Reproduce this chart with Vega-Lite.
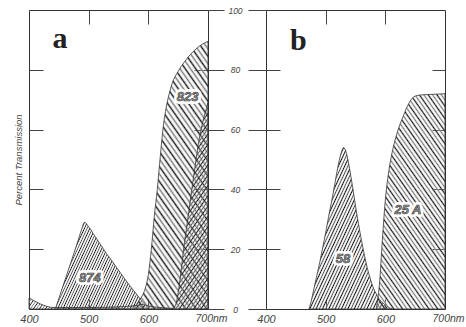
{
"$schema":"https://vega.github.io/schema/vega-lite/v6.json",
"padding":{"left":13,"top":5,"right":5,"bottom":5},
"background":"white",
"datasets":{
"curves":[
{"p":"a","f":"874","nm":444,"t":0},{"p":"a","f":"874","nm":450,"t":3.5},{"p":"a","f":"874","nm":460,"t":9.5},{"p":"a","f":"874","nm":470,"t":15.5},{"p":"a","f":"874","nm":480,"t":21.5},{"p":"a","f":"874","nm":488,"t":26.5},{"p":"a","f":"874","nm":493,"t":29},{"p":"a","f":"874","nm":500,"t":27.5},{"p":"a","f":"874","nm":510,"t":24.5},{"p":"a","f":"874","nm":520,"t":21.5},{"p":"a","f":"874","nm":530,"t":18.5},{"p":"a","f":"874","nm":540,"t":15.8},{"p":"a","f":"874","nm":550,"t":13},{"p":"a","f":"874","nm":560,"t":10.2},{"p":"a","f":"874","nm":570,"t":7.5},{"p":"a","f":"874","nm":580,"t":5},{"p":"a","f":"874","nm":590,"t":2.5},{"p":"a","f":"874","nm":600,"t":0.5},
{"p":"a","f":"823","nm":575,"t":0},{"p":"a","f":"823","nm":580,"t":1.5},{"p":"a","f":"823","nm":585,"t":3},{"p":"a","f":"823","nm":590,"t":4.5},{"p":"a","f":"823","nm":595,"t":7},{"p":"a","f":"823","nm":600,"t":11.5},{"p":"a","f":"823","nm":605,"t":20},{"p":"a","f":"823","nm":610,"t":31},{"p":"a","f":"823","nm":615,"t":40},{"p":"a","f":"823","nm":620,"t":51},{"p":"a","f":"823","nm":625,"t":61},{"p":"a","f":"823","nm":630,"t":67.5},{"p":"a","f":"823","nm":635,"t":72},{"p":"a","f":"823","nm":640,"t":75.5},{"p":"a","f":"823","nm":650,"t":79.5},{"p":"a","f":"823","nm":660,"t":82.5},{"p":"a","f":"823","nm":670,"t":85},{"p":"a","f":"823","nm":680,"t":87},{"p":"a","f":"823","nm":690,"t":88.5},{"p":"a","f":"823","nm":700,"t":89.5},
{"p":"a","f":"X","s":"tail","nm":400,"t":3.7},{"p":"a","f":"X","s":"tail","nm":410,"t":2.6},{"p":"a","f":"X","s":"tail","nm":420,"t":1.6},{"p":"a","f":"X","s":"tail","nm":430,"t":0.9},{"p":"a","f":"X","s":"tail","nm":440,"t":0.5},{"p":"a","f":"X","s":"tail","nm":500,"t":0.5},{"p":"a","f":"X","s":"tail","nm":560,"t":0.8},{"p":"a","f":"X","s":"tail","nm":580,"t":1.2},{"p":"a","f":"X","s":"tail","nm":590,"t":1.5},{"p":"a","f":"X","s":"tail","nm":600,"t":1},{"p":"a","f":"X","s":"tail","nm":620,"t":0.5},{"p":"a","f":"X","s":"tail","nm":640,"t":0.2},
{"p":"a","f":"X","s":"rise","nm":640,"t":0.2},{"p":"a","f":"X","s":"rise","nm":645,"t":1},{"p":"a","f":"X","s":"rise","nm":650,"t":5.5},{"p":"a","f":"X","s":"rise","nm":655,"t":13},{"p":"a","f":"X","s":"rise","nm":660,"t":21.5},{"p":"a","f":"X","s":"rise","nm":665,"t":28.5},{"p":"a","f":"X","s":"rise","nm":670,"t":36},{"p":"a","f":"X","s":"rise","nm":675,"t":43},{"p":"a","f":"X","s":"rise","nm":680,"t":50},{"p":"a","f":"X","s":"rise","nm":685,"t":56.5},{"p":"a","f":"X","s":"rise","nm":690,"t":61.5},{"p":"a","f":"X","s":"rise","nm":695,"t":65.5},{"p":"a","f":"X","s":"rise","nm":700,"t":69},
{"p":"b","f":"58","nm":472,"t":0},{"p":"b","f":"58","nm":475,"t":2},{"p":"b","f":"58","nm":480,"t":6.5},{"p":"b","f":"58","nm":485,"t":11},{"p":"b","f":"58","nm":490,"t":15.5},{"p":"b","f":"58","nm":495,"t":20.5},{"p":"b","f":"58","nm":500,"t":25.5},{"p":"b","f":"58","nm":505,"t":31},{"p":"b","f":"58","nm":510,"t":36},{"p":"b","f":"58","nm":515,"t":41.5},{"p":"b","f":"58","nm":520,"t":47},{"p":"b","f":"58","nm":525,"t":51.5},{"p":"b","f":"58","nm":530,"t":54},{"p":"b","f":"58","nm":535,"t":52},{"p":"b","f":"58","nm":540,"t":47},{"p":"b","f":"58","nm":545,"t":41},{"p":"b","f":"58","nm":550,"t":34.5},{"p":"b","f":"58","nm":555,"t":28.5},{"p":"b","f":"58","nm":560,"t":23},{"p":"b","f":"58","nm":565,"t":18},{"p":"b","f":"58","nm":570,"t":13.5},{"p":"b","f":"58","nm":575,"t":10},{"p":"b","f":"58","nm":580,"t":7},{"p":"b","f":"58","nm":585,"t":5},{"p":"b","f":"58","nm":590,"t":3.3},{"p":"b","f":"58","nm":595,"t":2.2},{"p":"b","f":"58","nm":600,"t":1.3},{"p":"b","f":"58","nm":605,"t":0.6},{"p":"b","f":"58","nm":612,"t":0},
{"p":"b","f":"25A","nm":585,"t":0.5},{"p":"b","f":"25A","nm":590,"t":8},{"p":"b","f":"25A","nm":595,"t":23},{"p":"b","f":"25A","nm":600,"t":36.5},{"p":"b","f":"25A","nm":605,"t":45},{"p":"b","f":"25A","nm":610,"t":51},{"p":"b","f":"25A","nm":615,"t":55.5},{"p":"b","f":"25A","nm":620,"t":59},{"p":"b","f":"25A","nm":625,"t":62},{"p":"b","f":"25A","nm":630,"t":64.5},{"p":"b","f":"25A","nm":635,"t":67},{"p":"b","f":"25A","nm":640,"t":69},{"p":"b","f":"25A","nm":645,"t":70.5},{"p":"b","f":"25A","nm":650,"t":71.2},{"p":"b","f":"25A","nm":660,"t":71.6},{"p":"b","f":"25A","nm":680,"t":71.8},{"p":"b","f":"25A","nm":700,"t":72}
],
"labels":[
{"p":"a","k":"panel","txt":"a","nm":452,"t":87.3},
{"p":"b","k":"panel","txt":"b","nm":454,"t":86.6},
{"p":"a","k":"filter","txt":"823","nm":666,"t":71},
{"p":"a","k":"filter","txt":"874","nm":502,"t":10.4},
{"p":"b","k":"filter","txt":"58","nm":529,"t":16.7},
{"p":"b","k":"filter","txt":"25 A","nm":638,"t":33.1}
]
},
"hconcat":[
{
"width":179,"height":299,
"resolve":{"axis":{"x":"independent","y":"independent"}},
"layer":[
{"data":{"name":"curves"},"transform":[{"filter":"datum.p == 'a' && datum.f == '874'"}],
"mark":{"type":"area","interpolate":"monotone","stroke":"#333","strokeWidth":0.8,"fill":{"gradient":"linear","x1":0,"y1":0,"x2":1.207,"y2":0.525,"stops":[{"offset":0,"color":"#000"},{"offset":0.01,"color":"#fff0"},{"offset":0.02,"color":"#444"},{"offset":0.03,"color":"#fff0"},{"offset":0.04,"color":"#000"},{"offset":0.05,"color":"#fff0"},{"offset":0.06,"color":"#444"},{"offset":0.07,"color":"#fff0"},{"offset":0.08,"color":"#000"},{"offset":0.09,"color":"#fff0"},{"offset":0.1,"color":"#444"},{"offset":0.11,"color":"#fff0"},{"offset":0.12,"color":"#000"},{"offset":0.13,"color":"#fff0"},{"offset":0.14,"color":"#444"},{"offset":0.15,"color":"#fff0"},{"offset":0.16,"color":"#000"},{"offset":0.17,"color":"#fff0"},{"offset":0.18,"color":"#444"},{"offset":0.19,"color":"#fff0"},{"offset":0.2,"color":"#000"},{"offset":0.21,"color":"#fff0"},{"offset":0.22,"color":"#444"},{"offset":0.23,"color":"#fff0"},{"offset":0.24,"color":"#000"},{"offset":0.25,"color":"#fff0"},{"offset":0.26,"color":"#444"},{"offset":0.27,"color":"#fff0"},{"offset":0.28,"color":"#000"},{"offset":0.29,"color":"#fff0"},{"offset":0.3,"color":"#444"},{"offset":0.31,"color":"#fff0"},{"offset":0.32,"color":"#000"},{"offset":0.33,"color":"#fff0"},{"offset":0.34,"color":"#444"},{"offset":0.35,"color":"#fff0"},{"offset":0.36,"color":"#000"},{"offset":0.37,"color":"#fff0"},{"offset":0.38,"color":"#444"},{"offset":0.39,"color":"#fff0"},{"offset":0.4,"color":"#000"},{"offset":0.41,"color":"#fff0"},{"offset":0.42,"color":"#444"},{"offset":0.43,"color":"#fff0"},{"offset":0.44,"color":"#000"},{"offset":0.45,"color":"#fff0"},{"offset":0.46,"color":"#444"},{"offset":0.47,"color":"#fff0"},{"offset":0.48,"color":"#000"},{"offset":0.49,"color":"#fff0"},{"offset":0.5,"color":"#444"},{"offset":0.51,"color":"#fff0"},{"offset":0.52,"color":"#000"},{"offset":0.53,"color":"#fff0"},{"offset":0.54,"color":"#444"},{"offset":0.55,"color":"#fff0"},{"offset":0.56,"color":"#000"},{"offset":0.57,"color":"#fff0"},{"offset":0.58,"color":"#444"},{"offset":0.59,"color":"#fff0"},{"offset":0.6,"color":"#000"},{"offset":0.61,"color":"#fff0"},{"offset":0.62,"color":"#444"},{"offset":0.63,"color":"#fff0"},{"offset":0.64,"color":"#000"},{"offset":0.65,"color":"#fff0"},{"offset":0.66,"color":"#444"},{"offset":0.67,"color":"#fff0"},{"offset":0.68,"color":"#000"},{"offset":0.69,"color":"#fff0"},{"offset":0.7,"color":"#444"},{"offset":0.71,"color":"#fff0"},{"offset":0.72,"color":"#000"},{"offset":0.73,"color":"#fff0"},{"offset":0.74,"color":"#444"},{"offset":0.75,"color":"#fff0"},{"offset":0.76,"color":"#000"},{"offset":0.77,"color":"#fff0"},{"offset":0.78,"color":"#444"},{"offset":0.79,"color":"#fff0"},{"offset":0.8,"color":"#000"},{"offset":0.81,"color":"#fff0"},{"offset":0.82,"color":"#444"},{"offset":0.83,"color":"#fff0"},{"offset":0.84,"color":"#000"},{"offset":0.85,"color":"#fff0"},{"offset":0.86,"color":"#444"},{"offset":0.87,"color":"#fff0"},{"offset":0.88,"color":"#000"},{"offset":0.89,"color":"#fff0"},{"offset":0.9,"color":"#444"},{"offset":0.91,"color":"#fff0"},{"offset":0.92,"color":"#000"},{"offset":0.93,"color":"#fff0"},{"offset":0.94,"color":"#444"},{"offset":0.95,"color":"#fff0"},{"offset":0.96,"color":"#000"},{"offset":0.97,"color":"#fff0"},{"offset":0.98,"color":"#444"},{"offset":0.99,"color":"#fff0"},{"offset":1,"color":"#fff0"}]}},
"encoding":{
"x":{"field":"nm","type":"quantitative","scale":{"domain":[400,700],"nice":false,"zero":false},"axis":{"orient":"bottom","values":[400,500,600,700],"ticks":false,"tickSize":0,"domain":false,"grid":false,"labelFlush":false,"labelBound":false,"labelOverlap":false,"labelPadding":4,"labelFontSize":{"condition":{"test":"datum.value == 700","value":10.5},"value":11},"title":null,"labelExpr":"datum.value == 700 ? '700nm' : datum.label","labelAlign":{"condition":{"test":"datum.value == 700","value":"left"},"value":"center"},"labelOffset":{"condition":{"test":"datum.value == 700","value":-13},"value":0}}},
"y":{"field":"t","type":"quantitative","scale":{"domain":[0,100],"nice":false},"axis":{"orient":"left","values":[20,40,60,80],"tickSize":-14,"labels":false,"domain":false,"grid":false,"title":"Percent Transmission","titleFont":"Liberation Sans","titleFontStyle":"italic","titleFontWeight":"normal","titleFontSize":9.5,"titleColor":"#444","titlePadding":5}}
}},
{"data":{"name":"curves"},"transform":[{"filter":"datum.p == 'a' && datum.f == '823'"}],
"mark":{"type":"area","interpolate":"monotone","stroke":"#333","strokeWidth":0.8,"fill":{"gradient":"linear","x1":1,"y1":0,"x2":0.52,"y2":1.207,"stops":[{"offset":0,"color":"#111"},{"offset":0.01,"color":"#fff0"},{"offset":0.02,"color":"#777"},{"offset":0.03,"color":"#fff0"},{"offset":0.04,"color":"#111"},{"offset":0.05,"color":"#fff0"},{"offset":0.06,"color":"#777"},{"offset":0.07,"color":"#fff0"},{"offset":0.08,"color":"#111"},{"offset":0.09,"color":"#fff0"},{"offset":0.1,"color":"#777"},{"offset":0.11,"color":"#fff0"},{"offset":0.12,"color":"#111"},{"offset":0.13,"color":"#fff0"},{"offset":0.14,"color":"#777"},{"offset":0.15,"color":"#fff0"},{"offset":0.16,"color":"#111"},{"offset":0.17,"color":"#fff0"},{"offset":0.18,"color":"#777"},{"offset":0.19,"color":"#fff0"},{"offset":0.2,"color":"#111"},{"offset":0.21,"color":"#fff0"},{"offset":0.22,"color":"#777"},{"offset":0.23,"color":"#fff0"},{"offset":0.24,"color":"#111"},{"offset":0.25,"color":"#fff0"},{"offset":0.26,"color":"#777"},{"offset":0.27,"color":"#fff0"},{"offset":0.28,"color":"#111"},{"offset":0.29,"color":"#fff0"},{"offset":0.3,"color":"#777"},{"offset":0.31,"color":"#fff0"},{"offset":0.32,"color":"#111"},{"offset":0.33,"color":"#fff0"},{"offset":0.34,"color":"#777"},{"offset":0.35,"color":"#fff0"},{"offset":0.36,"color":"#111"},{"offset":0.37,"color":"#fff0"},{"offset":0.38,"color":"#777"},{"offset":0.39,"color":"#fff0"},{"offset":0.4,"color":"#111"},{"offset":0.41,"color":"#fff0"},{"offset":0.42,"color":"#777"},{"offset":0.43,"color":"#fff0"},{"offset":0.44,"color":"#111"},{"offset":0.45,"color":"#fff0"},{"offset":0.46,"color":"#777"},{"offset":0.47,"color":"#fff0"},{"offset":0.48,"color":"#111"},{"offset":0.49,"color":"#fff0"},{"offset":0.5,"color":"#777"},{"offset":0.51,"color":"#fff0"},{"offset":0.52,"color":"#111"},{"offset":0.53,"color":"#fff0"},{"offset":0.54,"color":"#777"},{"offset":0.55,"color":"#fff0"},{"offset":0.56,"color":"#111"},{"offset":0.57,"color":"#fff0"},{"offset":0.58,"color":"#777"},{"offset":0.59,"color":"#fff0"},{"offset":0.6,"color":"#111"},{"offset":0.61,"color":"#fff0"},{"offset":0.62,"color":"#777"},{"offset":0.63,"color":"#fff0"},{"offset":0.64,"color":"#111"},{"offset":0.65,"color":"#fff0"},{"offset":0.66,"color":"#777"},{"offset":0.67,"color":"#fff0"},{"offset":0.68,"color":"#111"},{"offset":0.69,"color":"#fff0"},{"offset":0.7,"color":"#777"},{"offset":0.71,"color":"#fff0"},{"offset":0.72,"color":"#111"},{"offset":0.73,"color":"#fff0"},{"offset":0.74,"color":"#777"},{"offset":0.75,"color":"#fff0"},{"offset":0.76,"color":"#111"},{"offset":0.77,"color":"#fff0"},{"offset":0.78,"color":"#777"},{"offset":0.79,"color":"#fff0"},{"offset":0.8,"color":"#111"},{"offset":0.81,"color":"#fff0"},{"offset":0.82,"color":"#777"},{"offset":0.83,"color":"#fff0"},{"offset":0.84,"color":"#111"},{"offset":0.85,"color":"#fff0"},{"offset":0.86,"color":"#777"},{"offset":0.87,"color":"#fff0"},{"offset":0.88,"color":"#111"},{"offset":0.89,"color":"#fff0"},{"offset":0.9,"color":"#777"},{"offset":0.91,"color":"#fff0"},{"offset":0.92,"color":"#111"},{"offset":0.93,"color":"#fff0"},{"offset":0.94,"color":"#777"},{"offset":0.95,"color":"#fff0"},{"offset":0.96,"color":"#111"},{"offset":0.97,"color":"#fff0"},{"offset":0.98,"color":"#777"},{"offset":0.99,"color":"#fff0"},{"offset":1,"color":"#fff0"}]}},
"encoding":{
"x":{"field":"nm","type":"quantitative","scale":{"domain":[400,700],"nice":false,"zero":false},"axis":{"orient":"top","values":[500,600],"tickSize":-14,"labels":false,"domain":false,"grid":false,"title":null}},
"y":{"field":"t","type":"quantitative","scale":{"domain":[0,100],"nice":false},"axis":{"orient":"right","values":[0,20,40,60,80,100],"tickSize":16,"labelPadding":11,"labelAlign":"center","labelFontSize":8.5,"domain":false,"grid":false,"title":null}}
}},
{"data":{"name":"curves"},"transform":[{"filter":"datum.p == 'a' && datum.f == 'X' && datum.s == 'tail'"}],
"mark":{"type":"area","interpolate":"monotone","stroke":"#333","strokeWidth":0.8,"fill":{"gradient":"linear","x1":0,"y1":0,"x2":1.05,"y2":0.057,"stops":[{"offset":0,"color":"#111"},{"offset":0.01,"color":"#fff0"},{"offset":0.02,"color":"#777"},{"offset":0.03,"color":"#fff0"},{"offset":0.04,"color":"#111"},{"offset":0.05,"color":"#fff0"},{"offset":0.06,"color":"#777"},{"offset":0.07,"color":"#fff0"},{"offset":0.08,"color":"#111"},{"offset":0.09,"color":"#fff0"},{"offset":0.1,"color":"#777"},{"offset":0.11,"color":"#fff0"},{"offset":0.12,"color":"#111"},{"offset":0.13,"color":"#fff0"},{"offset":0.14,"color":"#777"},{"offset":0.15,"color":"#fff0"},{"offset":0.16,"color":"#111"},{"offset":0.17,"color":"#fff0"},{"offset":0.18,"color":"#777"},{"offset":0.19,"color":"#fff0"},{"offset":0.2,"color":"#111"},{"offset":0.21,"color":"#fff0"},{"offset":0.22,"color":"#777"},{"offset":0.23,"color":"#fff0"},{"offset":0.24,"color":"#111"},{"offset":0.25,"color":"#fff0"},{"offset":0.26,"color":"#777"},{"offset":0.27,"color":"#fff0"},{"offset":0.28,"color":"#111"},{"offset":0.29,"color":"#fff0"},{"offset":0.3,"color":"#777"},{"offset":0.31,"color":"#fff0"},{"offset":0.32,"color":"#111"},{"offset":0.33,"color":"#fff0"},{"offset":0.34,"color":"#777"},{"offset":0.35,"color":"#fff0"},{"offset":0.36,"color":"#111"},{"offset":0.37,"color":"#fff0"},{"offset":0.38,"color":"#777"},{"offset":0.39,"color":"#fff0"},{"offset":0.4,"color":"#111"},{"offset":0.41,"color":"#fff0"},{"offset":0.42,"color":"#777"},{"offset":0.43,"color":"#fff0"},{"offset":0.44,"color":"#111"},{"offset":0.45,"color":"#fff0"},{"offset":0.46,"color":"#777"},{"offset":0.47,"color":"#fff0"},{"offset":0.48,"color":"#111"},{"offset":0.49,"color":"#fff0"},{"offset":0.5,"color":"#777"},{"offset":0.51,"color":"#fff0"},{"offset":0.52,"color":"#111"},{"offset":0.53,"color":"#fff0"},{"offset":0.54,"color":"#777"},{"offset":0.55,"color":"#fff0"},{"offset":0.56,"color":"#111"},{"offset":0.57,"color":"#fff0"},{"offset":0.58,"color":"#777"},{"offset":0.59,"color":"#fff0"},{"offset":0.6,"color":"#111"},{"offset":0.61,"color":"#fff0"},{"offset":0.62,"color":"#777"},{"offset":0.63,"color":"#fff0"},{"offset":0.64,"color":"#111"},{"offset":0.65,"color":"#fff0"},{"offset":0.66,"color":"#777"},{"offset":0.67,"color":"#fff0"},{"offset":0.68,"color":"#111"},{"offset":0.69,"color":"#fff0"},{"offset":0.7,"color":"#777"},{"offset":0.71,"color":"#fff0"},{"offset":0.72,"color":"#111"},{"offset":0.73,"color":"#fff0"},{"offset":0.74,"color":"#777"},{"offset":0.75,"color":"#fff0"},{"offset":0.76,"color":"#111"},{"offset":0.77,"color":"#fff0"},{"offset":0.78,"color":"#777"},{"offset":0.79,"color":"#fff0"},{"offset":0.8,"color":"#111"},{"offset":0.81,"color":"#fff0"},{"offset":0.82,"color":"#777"},{"offset":0.83,"color":"#fff0"},{"offset":0.84,"color":"#111"},{"offset":0.85,"color":"#fff0"},{"offset":0.86,"color":"#777"},{"offset":0.87,"color":"#fff0"},{"offset":0.88,"color":"#111"},{"offset":0.89,"color":"#fff0"},{"offset":0.9,"color":"#777"},{"offset":0.91,"color":"#fff0"},{"offset":0.92,"color":"#111"},{"offset":0.93,"color":"#fff0"},{"offset":0.94,"color":"#777"},{"offset":0.95,"color":"#fff0"},{"offset":0.96,"color":"#111"},{"offset":0.97,"color":"#fff0"},{"offset":0.98,"color":"#777"},{"offset":0.99,"color":"#fff0"},{"offset":1,"color":"#fff0"}]}},
"encoding":{
"x":{"field":"nm","type":"quantitative","scale":{"domain":[400,700],"nice":false,"zero":false},"axis":{"orient":"bottom","values":[500,600],"tickSize":-10,"labels":false,"domain":false,"grid":false,"title":null}},
"y":{"field":"t","type":"quantitative","scale":{"domain":[0,100],"nice":false},"axis":{"orient":"right","values":[20,40,60,80],"tickSize":-14,"labels":false,"domain":false,"grid":false,"title":null}}
}},
{"data":{"name":"curves"},"transform":[{"filter":"datum.p == 'a' && datum.f == 'X' && datum.s == 'rise'"}],
"mark":{"type":"area","interpolate":"monotone","stroke":"#333","strokeWidth":0.8,"fill":{"gradient":"linear","x1":0,"y1":0,"x2":0.292,"y2":1.176,"stops":[{"offset":0,"color":"#111"},{"offset":0.01,"color":"#fff0"},{"offset":0.02,"color":"#555"},{"offset":0.03,"color":"#fff0"},{"offset":0.04,"color":"#111"},{"offset":0.05,"color":"#fff0"},{"offset":0.06,"color":"#555"},{"offset":0.07,"color":"#fff0"},{"offset":0.08,"color":"#111"},{"offset":0.09,"color":"#fff0"},{"offset":0.1,"color":"#555"},{"offset":0.11,"color":"#fff0"},{"offset":0.12,"color":"#111"},{"offset":0.13,"color":"#fff0"},{"offset":0.14,"color":"#555"},{"offset":0.15,"color":"#fff0"},{"offset":0.16,"color":"#111"},{"offset":0.17,"color":"#fff0"},{"offset":0.18,"color":"#555"},{"offset":0.19,"color":"#fff0"},{"offset":0.2,"color":"#111"},{"offset":0.21,"color":"#fff0"},{"offset":0.22,"color":"#555"},{"offset":0.23,"color":"#fff0"},{"offset":0.24,"color":"#111"},{"offset":0.25,"color":"#fff0"},{"offset":0.26,"color":"#555"},{"offset":0.27,"color":"#fff0"},{"offset":0.28,"color":"#111"},{"offset":0.29,"color":"#fff0"},{"offset":0.3,"color":"#555"},{"offset":0.31,"color":"#fff0"},{"offset":0.32,"color":"#111"},{"offset":0.33,"color":"#fff0"},{"offset":0.34,"color":"#555"},{"offset":0.35,"color":"#fff0"},{"offset":0.36,"color":"#111"},{"offset":0.37,"color":"#fff0"},{"offset":0.38,"color":"#555"},{"offset":0.39,"color":"#fff0"},{"offset":0.4,"color":"#111"},{"offset":0.41,"color":"#fff0"},{"offset":0.42,"color":"#555"},{"offset":0.43,"color":"#fff0"},{"offset":0.44,"color":"#111"},{"offset":0.45,"color":"#fff0"},{"offset":0.46,"color":"#555"},{"offset":0.47,"color":"#fff0"},{"offset":0.48,"color":"#111"},{"offset":0.49,"color":"#fff0"},{"offset":0.5,"color":"#555"},{"offset":0.51,"color":"#fff0"},{"offset":0.52,"color":"#111"},{"offset":0.53,"color":"#fff0"},{"offset":0.54,"color":"#555"},{"offset":0.55,"color":"#fff0"},{"offset":0.56,"color":"#111"},{"offset":0.57,"color":"#fff0"},{"offset":0.58,"color":"#555"},{"offset":0.59,"color":"#fff0"},{"offset":0.6,"color":"#111"},{"offset":0.61,"color":"#fff0"},{"offset":0.62,"color":"#555"},{"offset":0.63,"color":"#fff0"},{"offset":0.64,"color":"#111"},{"offset":0.65,"color":"#fff0"},{"offset":0.66,"color":"#555"},{"offset":0.67,"color":"#fff0"},{"offset":0.68,"color":"#111"},{"offset":0.69,"color":"#fff0"},{"offset":0.7,"color":"#555"},{"offset":0.71,"color":"#fff0"},{"offset":0.72,"color":"#111"},{"offset":0.73,"color":"#fff0"},{"offset":0.74,"color":"#555"},{"offset":0.75,"color":"#fff0"},{"offset":0.76,"color":"#111"},{"offset":0.77,"color":"#fff0"},{"offset":0.78,"color":"#555"},{"offset":0.79,"color":"#fff0"},{"offset":0.8,"color":"#111"},{"offset":0.81,"color":"#fff0"},{"offset":0.82,"color":"#555"},{"offset":0.83,"color":"#fff0"},{"offset":0.84,"color":"#111"},{"offset":0.85,"color":"#fff0"},{"offset":0.86,"color":"#555"},{"offset":0.87,"color":"#fff0"},{"offset":0.88,"color":"#111"},{"offset":0.89,"color":"#fff0"},{"offset":0.9,"color":"#555"},{"offset":0.91,"color":"#fff0"},{"offset":0.92,"color":"#111"},{"offset":0.93,"color":"#fff0"},{"offset":0.94,"color":"#555"},{"offset":0.95,"color":"#fff0"},{"offset":0.96,"color":"#111"},{"offset":0.97,"color":"#fff0"},{"offset":0.98,"color":"#555"},{"offset":0.99,"color":"#fff0"},{"offset":1,"color":"#fff0"}]}},
"encoding":{
"x":{"field":"nm","type":"quantitative","scale":{"domain":[400,700],"nice":false,"zero":false},"axis":null},
"y":{"field":"t","type":"quantitative","scale":{"domain":[0,100],"nice":false},"axis":null}
}},
{"data":{"name":"labels"},"transform":[{"filter":"datum.p == 'a' && datum.k == 'filter'"}],
"mark":{"type":"text","font":"Liberation Sans","fontStyle":"italic","fontWeight":"bold","fontSize":13,"fill":"white","stroke":"white","strokeWidth":6,"strokeJoin":"round","baseline":"middle","align":"center"},
"encoding":{"x":{"field":"nm","type":"quantitative","scale":{"domain":[400,700],"nice":false,"zero":false},"axis":null},"y":{"field":"t","type":"quantitative","scale":{"domain":[0,100],"nice":false},"axis":null},"text":{"field":"txt"}}},
{"data":{"name":"labels"},"transform":[{"filter":"datum.p == 'a' && datum.k == 'filter'"}],
"mark":{"type":"text","font":"Liberation Sans","fontStyle":"italic","fontWeight":"bold","fontSize":13,"fill":"#9a9a9a","stroke":"#333","strokeWidth":0.6,"baseline":"middle","align":"center"},
"encoding":{"x":{"field":"nm","type":"quantitative","scale":{"domain":[400,700],"nice":false,"zero":false},"axis":null},"y":{"field":"t","type":"quantitative","scale":{"domain":[0,100],"nice":false},"axis":null},"text":{"field":"txt"}}},
{"data":{"name":"labels"},"transform":[{"filter":"datum.p == 'a' && datum.k == 'panel'"}],
"mark":{"type":"text","font":"Liberation Serif","fontWeight":"bold","fontSize":30,"fill":"#222","baseline":"alphabetic","align":"center"},
"encoding":{"x":{"field":"nm","type":"quantitative","scale":{"domain":[400,700],"nice":false,"zero":false},"axis":null},"y":{"field":"t","type":"quantitative","scale":{"domain":[0,100],"nice":false},"axis":null},"text":{"field":"txt"}}}
]
},
{
"width":179,"height":299,
"resolve":{"axis":{"x":"independent","y":"independent"}},
"layer":[
{"data":{"name":"curves"},"transform":[{"filter":"datum.p == 'b' && datum.f == '58'"}],
"mark":{"type":"area","interpolate":"monotone","stroke":"#333","strokeWidth":0.8,"fill":{"gradient":"linear","x1":0,"y1":0,"x2":1.047,"y2":0.945,"stops":[{"offset":0,"color":"#000"},{"offset":0.01,"color":"#fff0"},{"offset":0.02,"color":"#444"},{"offset":0.03,"color":"#fff0"},{"offset":0.04,"color":"#000"},{"offset":0.05,"color":"#fff0"},{"offset":0.06,"color":"#444"},{"offset":0.07,"color":"#fff0"},{"offset":0.08,"color":"#000"},{"offset":0.09,"color":"#fff0"},{"offset":0.1,"color":"#444"},{"offset":0.11,"color":"#fff0"},{"offset":0.12,"color":"#000"},{"offset":0.13,"color":"#fff0"},{"offset":0.14,"color":"#444"},{"offset":0.15,"color":"#fff0"},{"offset":0.16,"color":"#000"},{"offset":0.17,"color":"#fff0"},{"offset":0.18,"color":"#444"},{"offset":0.19,"color":"#fff0"},{"offset":0.2,"color":"#000"},{"offset":0.21,"color":"#fff0"},{"offset":0.22,"color":"#444"},{"offset":0.23,"color":"#fff0"},{"offset":0.24,"color":"#000"},{"offset":0.25,"color":"#fff0"},{"offset":0.26,"color":"#444"},{"offset":0.27,"color":"#fff0"},{"offset":0.28,"color":"#000"},{"offset":0.29,"color":"#fff0"},{"offset":0.3,"color":"#444"},{"offset":0.31,"color":"#fff0"},{"offset":0.32,"color":"#000"},{"offset":0.33,"color":"#fff0"},{"offset":0.34,"color":"#444"},{"offset":0.35,"color":"#fff0"},{"offset":0.36,"color":"#000"},{"offset":0.37,"color":"#fff0"},{"offset":0.38,"color":"#444"},{"offset":0.39,"color":"#fff0"},{"offset":0.4,"color":"#000"},{"offset":0.41,"color":"#fff0"},{"offset":0.42,"color":"#444"},{"offset":0.43,"color":"#fff0"},{"offset":0.44,"color":"#000"},{"offset":0.45,"color":"#fff0"},{"offset":0.46,"color":"#444"},{"offset":0.47,"color":"#fff0"},{"offset":0.48,"color":"#000"},{"offset":0.49,"color":"#fff0"},{"offset":0.5,"color":"#444"},{"offset":0.51,"color":"#fff0"},{"offset":0.52,"color":"#000"},{"offset":0.53,"color":"#fff0"},{"offset":0.54,"color":"#444"},{"offset":0.55,"color":"#fff0"},{"offset":0.56,"color":"#000"},{"offset":0.57,"color":"#fff0"},{"offset":0.58,"color":"#444"},{"offset":0.59,"color":"#fff0"},{"offset":0.6,"color":"#000"},{"offset":0.61,"color":"#fff0"},{"offset":0.62,"color":"#444"},{"offset":0.63,"color":"#fff0"},{"offset":0.64,"color":"#000"},{"offset":0.65,"color":"#fff0"},{"offset":0.66,"color":"#444"},{"offset":0.67,"color":"#fff0"},{"offset":0.68,"color":"#000"},{"offset":0.69,"color":"#fff0"},{"offset":0.7,"color":"#444"},{"offset":0.71,"color":"#fff0"},{"offset":0.72,"color":"#000"},{"offset":0.73,"color":"#fff0"},{"offset":0.74,"color":"#444"},{"offset":0.75,"color":"#fff0"},{"offset":0.76,"color":"#000"},{"offset":0.77,"color":"#fff0"},{"offset":0.78,"color":"#444"},{"offset":0.79,"color":"#fff0"},{"offset":0.8,"color":"#000"},{"offset":0.81,"color":"#fff0"},{"offset":0.82,"color":"#444"},{"offset":0.83,"color":"#fff0"},{"offset":0.84,"color":"#000"},{"offset":0.85,"color":"#fff0"},{"offset":0.86,"color":"#444"},{"offset":0.87,"color":"#fff0"},{"offset":0.88,"color":"#000"},{"offset":0.89,"color":"#fff0"},{"offset":0.9,"color":"#444"},{"offset":0.91,"color":"#fff0"},{"offset":0.92,"color":"#000"},{"offset":0.93,"color":"#fff0"},{"offset":0.94,"color":"#444"},{"offset":0.95,"color":"#fff0"},{"offset":0.96,"color":"#000"},{"offset":0.97,"color":"#fff0"},{"offset":0.98,"color":"#444"},{"offset":0.99,"color":"#fff0"},{"offset":1,"color":"#fff0"}]}},
"encoding":{
"x":{"field":"nm","type":"quantitative","scale":{"domain":[400,700],"nice":false,"zero":false},"axis":{"orient":"bottom","values":[400,500,600,700],"ticks":false,"tickSize":0,"domain":false,"grid":false,"labelFlush":false,"labelBound":false,"labelOverlap":false,"labelPadding":4,"labelFontSize":{"condition":{"test":"datum.value == 700","value":10.5},"value":11},"title":null,"labelExpr":"datum.value == 700 ? '700nm' : datum.label","labelAlign":{"condition":{"test":"datum.value == 700","value":"left"},"value":"center"},"labelOffset":{"condition":{"test":"datum.value == 700","value":-13},"value":0}}},
"y":{"field":"t","type":"quantitative","scale":{"domain":[0,100],"nice":false},"axis":{"orient":"left","values":[0,20,40,60,80,100],"tickSize":18,"labels":false,"domain":false,"grid":false,"title":null}}
}},
{"data":{"name":"curves"},"transform":[{"filter":"datum.p == 'b' && datum.f == '25A'"}],
"mark":{"type":"area","interpolate":"monotone","stroke":"#333","strokeWidth":0.8,"fill":{"gradient":"linear","x1":1,"y1":0,"x2":0.452,"y2":1.206,"stops":[{"offset":0,"color":"#111"},{"offset":0.01,"color":"#fff0"},{"offset":0.02,"color":"#777"},{"offset":0.03,"color":"#fff0"},{"offset":0.04,"color":"#111"},{"offset":0.05,"color":"#fff0"},{"offset":0.06,"color":"#777"},{"offset":0.07,"color":"#fff0"},{"offset":0.08,"color":"#111"},{"offset":0.09,"color":"#fff0"},{"offset":0.1,"color":"#777"},{"offset":0.11,"color":"#fff0"},{"offset":0.12,"color":"#111"},{"offset":0.13,"color":"#fff0"},{"offset":0.14,"color":"#777"},{"offset":0.15,"color":"#fff0"},{"offset":0.16,"color":"#111"},{"offset":0.17,"color":"#fff0"},{"offset":0.18,"color":"#777"},{"offset":0.19,"color":"#fff0"},{"offset":0.2,"color":"#111"},{"offset":0.21,"color":"#fff0"},{"offset":0.22,"color":"#777"},{"offset":0.23,"color":"#fff0"},{"offset":0.24,"color":"#111"},{"offset":0.25,"color":"#fff0"},{"offset":0.26,"color":"#777"},{"offset":0.27,"color":"#fff0"},{"offset":0.28,"color":"#111"},{"offset":0.29,"color":"#fff0"},{"offset":0.3,"color":"#777"},{"offset":0.31,"color":"#fff0"},{"offset":0.32,"color":"#111"},{"offset":0.33,"color":"#fff0"},{"offset":0.34,"color":"#777"},{"offset":0.35,"color":"#fff0"},{"offset":0.36,"color":"#111"},{"offset":0.37,"color":"#fff0"},{"offset":0.38,"color":"#777"},{"offset":0.39,"color":"#fff0"},{"offset":0.4,"color":"#111"},{"offset":0.41,"color":"#fff0"},{"offset":0.42,"color":"#777"},{"offset":0.43,"color":"#fff0"},{"offset":0.44,"color":"#111"},{"offset":0.45,"color":"#fff0"},{"offset":0.46,"color":"#777"},{"offset":0.47,"color":"#fff0"},{"offset":0.48,"color":"#111"},{"offset":0.49,"color":"#fff0"},{"offset":0.5,"color":"#777"},{"offset":0.51,"color":"#fff0"},{"offset":0.52,"color":"#111"},{"offset":0.53,"color":"#fff0"},{"offset":0.54,"color":"#777"},{"offset":0.55,"color":"#fff0"},{"offset":0.56,"color":"#111"},{"offset":0.57,"color":"#fff0"},{"offset":0.58,"color":"#777"},{"offset":0.59,"color":"#fff0"},{"offset":0.6,"color":"#111"},{"offset":0.61,"color":"#fff0"},{"offset":0.62,"color":"#777"},{"offset":0.63,"color":"#fff0"},{"offset":0.64,"color":"#111"},{"offset":0.65,"color":"#fff0"},{"offset":0.66,"color":"#777"},{"offset":0.67,"color":"#fff0"},{"offset":0.68,"color":"#111"},{"offset":0.69,"color":"#fff0"},{"offset":0.7,"color":"#777"},{"offset":0.71,"color":"#fff0"},{"offset":0.72,"color":"#111"},{"offset":0.73,"color":"#fff0"},{"offset":0.74,"color":"#777"},{"offset":0.75,"color":"#fff0"},{"offset":0.76,"color":"#111"},{"offset":0.77,"color":"#fff0"},{"offset":0.78,"color":"#777"},{"offset":0.79,"color":"#fff0"},{"offset":0.8,"color":"#111"},{"offset":0.81,"color":"#fff0"},{"offset":0.82,"color":"#777"},{"offset":0.83,"color":"#fff0"},{"offset":0.84,"color":"#111"},{"offset":0.85,"color":"#fff0"},{"offset":0.86,"color":"#777"},{"offset":0.87,"color":"#fff0"},{"offset":0.88,"color":"#111"},{"offset":0.89,"color":"#fff0"},{"offset":0.9,"color":"#777"},{"offset":0.91,"color":"#fff0"},{"offset":0.92,"color":"#111"},{"offset":0.93,"color":"#fff0"},{"offset":0.94,"color":"#777"},{"offset":0.95,"color":"#fff0"},{"offset":0.96,"color":"#111"},{"offset":0.97,"color":"#fff0"},{"offset":0.98,"color":"#777"},{"offset":0.99,"color":"#fff0"},{"offset":1,"color":"#fff0"}]}},
"encoding":{
"x":{"field":"nm","type":"quantitative","scale":{"domain":[400,700],"nice":false,"zero":false},"axis":{"orient":"top","values":[500,600],"tickSize":-14,"labels":false,"domain":false,"grid":false,"title":null}},
"y":{"field":"t","type":"quantitative","scale":{"domain":[0,100],"nice":false},"axis":{"orient":"left","values":[20,40,60,80],"tickSize":-14,"labels":false,"domain":false,"grid":false,"title":null}}
}},
{"data":{"name":"labels"},"transform":[{"filter":"datum.p == 'b' && datum.k == 'filter'"}],
"mark":{"type":"text","font":"Liberation Sans","fontStyle":"italic","fontWeight":"bold","fontSize":13,"fill":"white","stroke":"white","strokeWidth":6,"strokeJoin":"round","baseline":"middle","align":"center"},
"encoding":{"x":{"field":"nm","type":"quantitative","scale":{"domain":[400,700],"nice":false,"zero":false},"axis":{"orient":"bottom","values":[500,600],"tickSize":-10,"labels":false,"domain":false,"grid":false,"title":null}},"y":{"field":"t","type":"quantitative","scale":{"domain":[0,100],"nice":false},"axis":{"orient":"right","values":[20,40,60,80],"tickSize":-13,"labels":false,"domain":false,"grid":false,"title":null}},"text":{"field":"txt"}}},
{"data":{"name":"labels"},"transform":[{"filter":"datum.p == 'b' && datum.k == 'filter'"}],
"mark":{"type":"text","font":"Liberation Sans","fontStyle":"italic","fontWeight":"bold","fontSize":13,"fill":"#9a9a9a","stroke":"#333","strokeWidth":0.6,"baseline":"middle","align":"center"},
"encoding":{"x":{"field":"nm","type":"quantitative","scale":{"domain":[400,700],"nice":false,"zero":false},"axis":null},"y":{"field":"t","type":"quantitative","scale":{"domain":[0,100],"nice":false},"axis":null},"text":{"field":"txt"}}},
{"data":{"name":"labels"},"transform":[{"filter":"datum.p == 'b' && datum.k == 'panel'"}],
"mark":{"type":"text","font":"Liberation Serif","fontWeight":"bold","fontSize":30,"fill":"#222","baseline":"alphabetic","align":"center"},
"encoding":{"x":{"field":"nm","type":"quantitative","scale":{"domain":[400,700],"nice":false,"zero":false},"axis":null},"y":{"field":"t","type":"quantitative","scale":{"domain":[0,100],"nice":false},"axis":null},"text":{"field":"txt"}}}
]
}
],
"spacing":58,
"bounds":"flush",
"config":{
"view":{"stroke":"#333","strokeWidth":1},
"axis":{"tickColor":"#444","tickWidth":1,"labelColor":"#444","labelFont":"Liberation Sans","labelFontStyle":"italic","grid":false,"domain":false}
}
}
